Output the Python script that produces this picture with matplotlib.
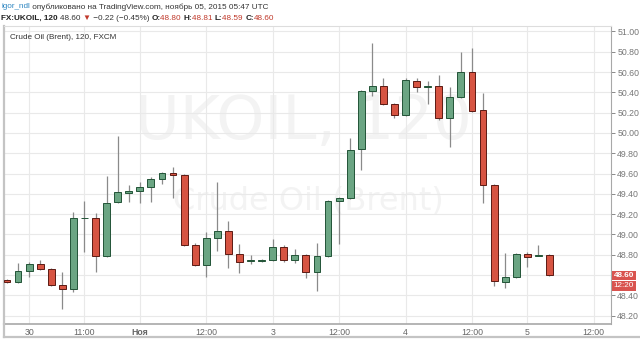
import matplotlib.pyplot as plt
from matplotlib.patches import Rectangle
import numpy as np

plt.rcParams['font.family'] = ['Liberation Sans', 'DejaVu Sans']

# 2h candles FX:UKOIL, bar index on x axis
opens = [48.55, 48.53, 48.64, 48.71, 48.66, 48.50, 48.46, 49.16, 49.16, 48.79,
         49.32, 49.41, 49.43, 49.47, 49.55, 49.61, 49.59, 48.90, 48.70, 48.97,
         49.03, 48.81, 48.74, 48.74, 48.75, 48.88, 48.75, 48.80, 48.63, 48.79,
         49.33, 49.36, 49.84, 50.41, 50.46, 50.29, 50.18, 50.51, 50.45, 50.46,
         50.15, 50.35, 50.60, 50.23, 49.49, 48.53, 48.58, 48.81, 48.79, 48.80]
highs = [48.56, 48.72, 48.73, 48.75, 48.67, 48.63, 49.22, 49.33, 49.21, 49.58,
         49.97, 49.49, 49.52, 49.57, 49.62, 49.66, 49.60, 48.92, 49.02, 49.52,
         49.13, 48.91, 48.80, 48.76, 48.96, 48.90, 48.86, 48.81, 48.92, 49.34,
         49.37, 49.95, 50.42, 50.89, 50.54, 50.30, 50.54, 50.54, 50.51, 50.57,
         50.45, 50.80, 50.84, 50.39, 49.50, 48.82, 48.82, 48.83, 48.90, 48.81]
lows = [48.52, 48.52, 48.58, 48.65, 48.49, 48.27, 48.43, 48.83, 48.63, 48.78,
        49.31, 49.32, 49.31, 49.32, 49.50, 49.36, 48.89, 48.69, 48.58, 48.84,
        48.67, 48.62, 48.71, 48.73, 48.74, 48.73, 48.72, 48.57, 48.44, 48.78,
        48.91, 49.35, 49.64, 50.36, 50.28, 50.15, 50.17, 50.40, 50.29, 50.13,
        49.86, 50.34, 50.21, 49.31, 48.49, 48.47, 48.57, 48.68, 48.79, 48.59]
closes = [48.53, 48.64, 48.71, 48.66, 48.50, 48.46, 49.16, 49.16, 48.79, 49.31,
          49.42, 49.43, 49.47, 49.55, 49.61, 49.59, 48.90, 48.70, 48.97, 49.03,
          48.81, 48.73, 48.74, 48.75, 48.88, 48.75, 48.80, 48.63, 48.79, 49.33,
          49.36, 49.83, 50.41, 50.46, 50.29, 50.18, 50.52, 50.45, 50.46, 50.15,
          50.35, 50.60, 50.22, 49.49, 48.54, 48.58, 48.81, 48.78, 48.80, 48.60]

time_ticks = [2, 7, 12, 18, 24, 30, 36, 42, 47, 53]
time_labels = ['30', '11:00', 'Ноя', '12:00', '3', '12:00', '4', '12:00', '5', '12:00']
price_ticks = np.arange(48.2, 51.01, 0.2)
last_price = 48.60

up_fill, up_edge = '#6ba583', '#225437'
dn_fill, dn_edge = '#d75442', '#5b1a13'
wick = '#8a8a8a'

W, H = 640, 342
fig = plt.figure(figsize=(6.4, 3.42), dpi=100)
ax = fig.add_axes([4 / W, (H - 324) / H, (611 - 4) / W, (324 - 26) / H])

x = np.arange(len(opens))
o = np.array(opens); c = np.array(closes)
hi = np.array(highs); lo = np.array(lows)
up = c >= o

# watermark
ax.text(26.8, 50.10, 'UKOIL, 120', fontsize=44, color='#f3f3f3', ha='center', va='center',
        family='DejaVu Sans', zorder=0)
ax.text(27.2, 49.33, 'Crude Oil (Brent)', fontsize=23, color='#f3f3f3', ha='center', va='center',
        family='DejaVu Sans', zorder=0)

ax.vlines(x, lo, hi, color=wick, lw=0.9, zorder=2)
body = np.maximum(np.abs(c - o), 0.004)
ax.bar(x[up], body[up], bottom=np.minimum(o, c)[up], width=0.62,
       color=up_fill, edgecolor=up_edge, linewidth=0.7, zorder=3)
ax.bar(x[~up], body[~up], bottom=np.minimum(o, c)[~up], width=0.62,
       color=dn_fill, edgecolor=dn_edge, linewidth=0.7, zorder=3)

ax.set_xlim(-0.27, 54.56)
ax.set_ylim(48.118, 51.054)

ax.set_xticks(time_ticks)
ax.set_xticklabels(time_labels)
for lbl in ax.get_xticklabels():
    if lbl.get_text() == 'Ноя':
        lbl.set_fontweight('bold')
ax.set_yticks(price_ticks)
# the last-price tag covers its own tick label
ax.set_yticklabels(['' if abs(p - last_price) < 1e-6 else '%.2f' % p for p in price_ticks])
ax.yaxis.tick_right()
ax.tick_params(axis='y', labelsize=6.3, colors='#777777', length=3, width=0.6, pad=1.5)
ax.tick_params(axis='x', labelsize=6.3, colors='#666666', length=0, pad=3)
ax.grid(True, color='#e9e9e9', lw=0.8, zorder=0)
ax.set_axisbelow(True)

ax.spines['top'].set_color('#dddddd')
ax.spines['left'].set_color('#c4c4c4')
ax.spines['left'].set_linewidth(1.6)
ax.spines['right'].set_color('#a8a8a8')
ax.spines['bottom'].set_color('#a8a8a8')
ax.spines['bottom'].set_linewidth(1.2)

ax.text(0.01, 0.962, 'Crude Oil (Brent), 120, FXCM', transform=ax.transAxes,
        fontsize=5.9, color='#333333', ha='left', va='center')

# last price / countdown tags
for top, label, wt in [(270.5, '%.2f' % last_price, 'bold'), (281, '12:20', 'normal')]:
    fig.add_artist(Rectangle((612 / W, 1 - (top + 9.5) / H), 24 / W, 9.5 / H,
                             transform=fig.transFigure, fc='#d9534f', ec='none'))
    fig.text(624 / W, 1 - (top + 4.9) / H, label, fontsize=5.9, color='white', weight=wt,
             ha='center', va='center')

# widget borders
fig.add_artist(plt.Line2D([4 / W, 1], [1 - 337 / H] * 2, color='#c4c4c4', lw=1.6))
fig.add_artist(plt.Line2D([4 / W] * 2, [1 - 337 / H, 1 - 324 / H], color='#c4c4c4', lw=1.6))

# header lines
renderer = fig.canvas.get_renderer()


def chain(pieces, y, x0=1, size=5.9):
    xp = x0
    for txt, col, wt in pieces:
        t = fig.text(xp / W, 1 - y / H, txt, fontsize=size, color=col, weight=wt,
                     ha='left', va='center')
        xp += t.get_window_extent(renderer).width
    return xp


chain([('igor_ndl', '#2e86c1', 'normal'),
       (' опубликовано на TradingView.com, ноябрь 05, 2015 05:47 UTC', '#333333', 'normal')], 7)
red = '#c0392b'
chain([('FX:UKOIL, 120 ', '#222222', 'bold'),
       ('48.60 ', '#333333', 'normal'),
       ('▼', red, 'normal'),
       (' −0.22 (−0.45%) ', '#333333', 'normal'),
       ('O:', '#222222', 'bold'), ('48.80 ', red, 'normal'),
       ('H:', '#222222', 'bold'), ('48.81 ', red, 'normal'),
       ('L:', '#222222', 'bold'), ('48.59 ', red, 'normal'),
       ('C:', '#222222', 'bold'), ('48.60', red, 'normal')], 18)

fig.savefig('out.png', dpi=100)
